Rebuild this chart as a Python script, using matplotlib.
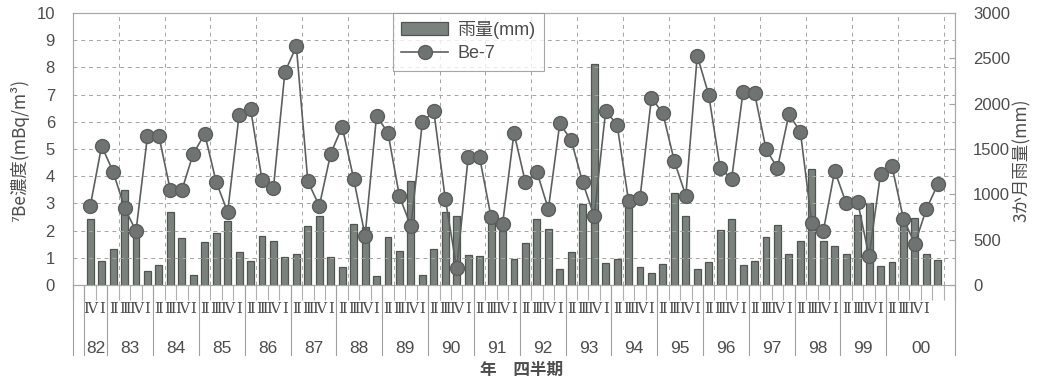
import numpy as np
import matplotlib
matplotlib.use("Agg")
import matplotlib.pyplot as plt

plt.rcParams['font.family'] = ['Liberation Sans', 'Noto Sans CJK JP', 'DejaVu Sans']

# fiscal years and how many quarters each one holds
years = ['82', '83', '84', '85', '86', '87', '88', '89', '90', '91',
         '92', '93', '94', '95', '96', '97', '98', '99', '00']
quarters_per_year = [2] + [4] * 17 + [5]

quarter_labels = (['Ⅳ', 'Ⅰ'] + ['Ⅱ', 'Ⅲ', 'Ⅳ', 'Ⅰ'] * 17
                  + ['Ⅱ', 'Ⅲ', 'Ⅳ', 'Ⅰ', ''])

# 7Be concentration (mBq/m3)
be7 = [2.89, 5.11, 4.17, 2.84, 1.98, 5.47, 5.47, 3.48, 3.48, 4.83,
       5.55, 3.79, 2.68, 6.25, 6.48, 3.87, 3.57, 7.83, 8.77, 3.82,
       2.90, 4.83, 5.82, 3.91, 1.81, 6.22, 5.59, 3.26, 2.16, 5.98,
       6.39, 3.17, 0.61, 4.69, 4.69, 2.49, 2.23, 5.59, 3.77, 4.16,
       2.79, 5.94, 5.32, 3.77, 2.53, 6.39, 5.90, 3.10, 3.19, 6.88,
       6.31, 4.55, 3.28, 8.43, 6.99, 4.30, 3.90, 7.11, 7.06, 5.00,
       4.30, 6.27, 5.64, 2.28, 1.97, 4.20, 3.01, 3.06, 1.05, 4.08,
       4.36, 2.43, 1.51, 2.79, 3.70]

# 3-month rainfall (mm)
rain = [731, 269, 398, 1052, 600, 150, 221, 800, 520, 114,
        472, 575, 708, 361, 269, 535, 483, 313, 339, 653,
        760, 313, 195, 671, 645, 103, 524, 380, 1151, 114,
        394, 804, 756, 332, 321, 740, 590, 283, 468, 731,
        623, 177, 365, 892, 2435, 247, 288, 960, 196, 130,
        228, 1018, 765, 176, 257, 607, 728, 217, 261, 533,
        665, 338, 482, 1276, 482, 430, 342, 772, 908, 206,
        250, 750, 735, 342, 279]

text_c = '#4d4d4d'
grid_c = '#a3a3a3'

fig = plt.figure(figsize=(10.37, 3.83), dpi=100)
ax = fig.add_axes([0.0704, 0.2559, 0.8505, 0.7102])
ax2 = ax.twinx()
ax.set_zorder(2)
ax.patch.set_visible(False)
ax2.set_zorder(1)

x = np.arange(1, len(be7) + 1)
n_slots = len(be7) + 2

bars = ax2.bar(x, rain, width=0.6, color='#7b827e', edgecolor='#4f5652',
               linewidth=0.9, label='雨量(mm)')
line, = ax.plot(x, be7, '-o', color='#5c605e', lw=1.2, ms=10,
                markerfacecolor='#6f7371', markeredgecolor='#5a5e5c',
                label='Be-7')

ax.set_xlim(-0.5, n_slots - 0.5)
ax.set_ylim(0, 10)
ax2.set_ylim(0, 3000)
ax.set_yticks(range(0, 11))
ax2.set_yticks(range(0, 3001, 500))

ax.yaxis.grid(True, linestyle=(0, (4, 4)), color=grid_c, lw=0.7)
for gx in np.arange(3.5, n_slots - 0.5, 4):
    ax.axvline(gx, linestyle=(0, (4, 4)), color=grid_c, lw=0.7, zorder=0)

for a in (ax, ax2):
    for s in a.spines.values():
        s.set_color('#a8a8a8')
        s.set_linewidth(0.8)

ax.tick_params(axis='y', length=0, pad=13, labelsize=12, labelcolor=text_c)
ax2.tick_params(axis='y', direction='in', length=4, color=grid_c, pad=13,
                labelsize=12, labelcolor=text_c)

# quarter labels under each slot
ax.set_xticks(x)
ax.set_xticklabels(quarter_labels, family=['DejaVu Serif', 'Noto Sans CJK JP'],
                   fontsize=10.5, color=text_c)
ax.tick_params(axis='x', which='major', length=0, pad=12)
ax.set_xticks(np.arange(-0.5, n_slots, 1), minor=True)
ax.tick_params(axis='x', which='minor', length=11, color='#b0b0b0', width=0.8)

# year separators and year labels
trans = ax.get_xaxis_transform()
bounds = [-0.5, 0.5] + list(0.5 + np.cumsum(quarters_per_year))
bounds[-1] = n_slots - 0.5
for b in bounds:
    ax.plot([b, b], [0, -0.257], transform=trans, clip_on=False,
            color='#a0a0a0', lw=0.8)
for i, yr in enumerate(years):
    cx = (bounds[i + 1] + bounds[i + 2]) / 2
    ax.text(cx, -0.235, yr, transform=trans, ha='center', va='center',
            fontsize=12.5, color=text_c)

leg = ax.legend([bars, line], ['雨量(mm)', 'Be-7'], loc='upper left',
                bbox_to_anchor=(0.363, 1.0), fontsize=13, frameon=True,
                fancybox=False, handlelength=2.6, borderpad=0.45,
                labelspacing=0.35, handletextpad=0.5, borderaxespad=0)
leg.get_frame().set_edgecolor('#909090')
leg.get_frame().set_linewidth(0.8)
for t in leg.get_texts():
    t.set_color(text_c)

fig.text(0.019, 1 - 150 / 383, '⁷Be濃度(mBq/m³)', rotation=90,
         ha='center', va='center', fontsize=12.5, color=text_c,
         family=['Noto Sans CJK JP', 'DejaVu Sans'])
fig.text(1022 / 1037, 1 - 160 / 383, '3か月雨量(mm)', rotation=90,
         ha='center', va='center', fontsize=12.5, color=text_c,
         family=['Noto Sans CJK JP', 'DejaVu Sans'])
fig.text(0.503, 0.034, '年　四半期', ha='center', va='center',
         fontsize=12, color=text_c, fontweight='bold',
         family=['Noto Sans CJK JP', 'DejaVu Sans'])

fig.savefig('out.png', dpi=100)
